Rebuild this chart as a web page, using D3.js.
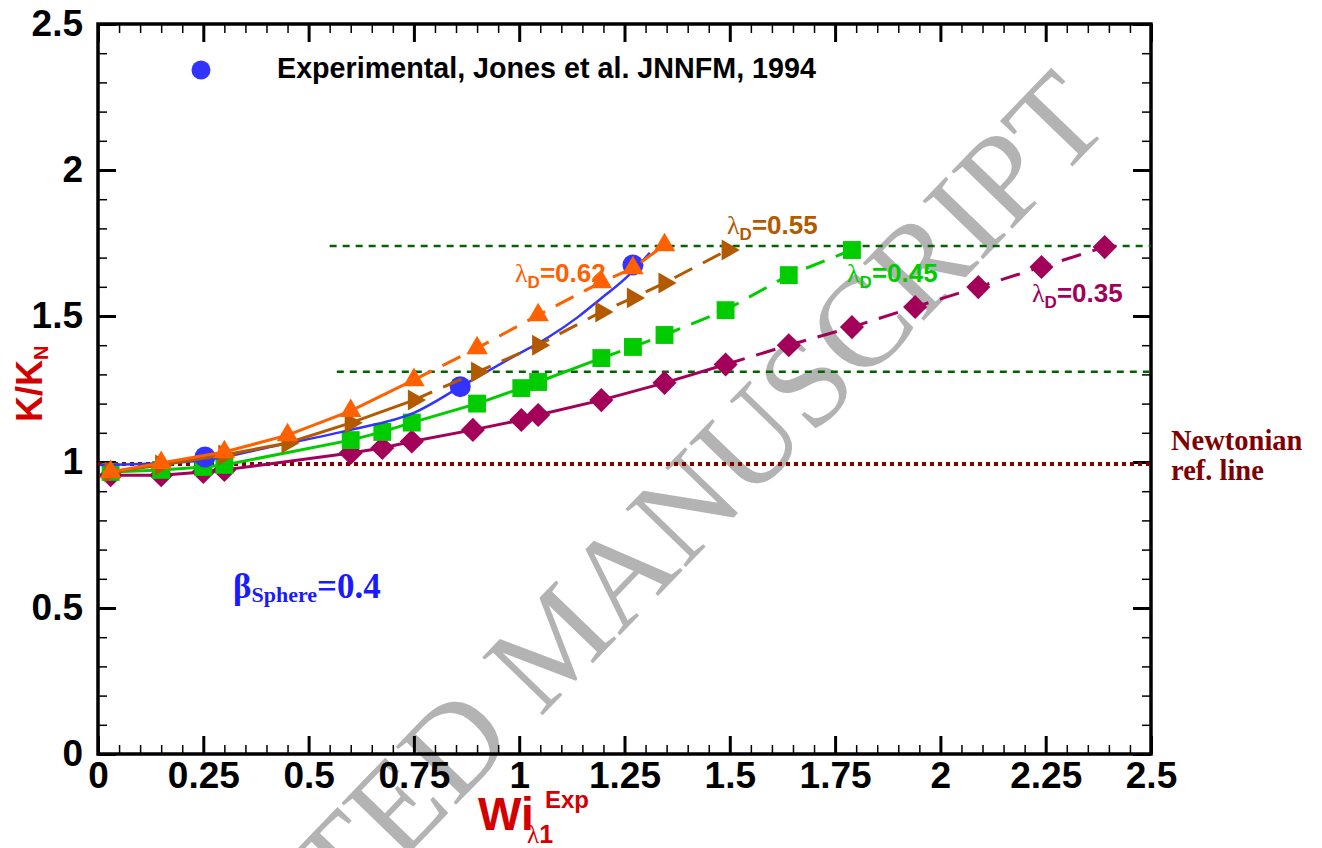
<!DOCTYPE html>
<html>
<head>
<meta charset="utf-8">
<script src="https://cdn.jsdelivr.net/npm/d3@7"></script>
<style>
  body { margin: 0; background: #fff; }
  text { font-family: "Liberation Sans", Arial, sans-serif; }
</style>
</head>
<body>
<div id="chart"></div>
<script>
// axis ticks
var xTicks = [0, 0.25, 0.5, 0.75, 1, 1.25, 1.5, 1.75, 2, 2.25, 2.5];
var yTicks = [0, 0.5, 1, 1.5, 2, 2.5];

// lambda_D = 0.62 (orange triangles)
var x062 = [0.03, 0.15, 0.30, 0.45, 0.60, 0.75, 0.90, 1.045, 1.195, 1.27, 1.345];
var y062 = [0.966, 0.997, 1.034, 1.092, 1.175, 1.281, 1.39, 1.503, 1.616, 1.664, 1.743];

// lambda_D = 0.55 (brown right triangles)
var x055 = [0.03, 0.15, 0.30, 0.45, 0.60, 0.75, 0.90, 1.045, 1.195, 1.27, 1.345, 1.495];
var y055 = [0.966, 0.99, 1.024, 1.065, 1.134, 1.212, 1.308, 1.40, 1.514, 1.562, 1.613, 1.726];

// lambda_D = 0.45 (green squares)
var x045 = [0.03, 0.15, 0.25, 0.30, 0.60, 0.675, 0.745, 0.90, 1.005, 1.045, 1.195, 1.27, 1.345, 1.49, 1.64, 1.79];
var y045 = [0.966, 0.973, 0.983, 0.99, 1.075, 1.103, 1.135, 1.2, 1.253, 1.274, 1.356, 1.394, 1.435, 1.52, 1.64, 1.726];

// lambda_D = 0.35 (purple diamonds)
var x035 = [0.03, 0.15, 0.25, 0.30, 0.60, 0.675, 0.745, 0.89, 1.005, 1.045, 1.195, 1.345, 1.49, 1.64, 1.79, 1.94, 2.09, 2.24, 2.39];
var y035 = [0.955, 0.955, 0.966, 0.973, 1.031, 1.048, 1.07, 1.11, 1.144, 1.161, 1.212, 1.271, 1.334, 1.40, 1.462, 1.531, 1.599, 1.668, 1.736];

// experiment, Jones et al. 1994
var xExp = [0.254, 0.86, 1.27];
var yExp = [1.017, 1.258, 1.675];

// simulation curve for the sphere (blue line)
var xSim = [0.005, 0.10, 0.254, 0.43, 0.60, 0.75, 0.86, 0.98, 1.07, 1.14, 1.19, 1.256, 1.31];
var ySim = [0.99, 0.993, 1.007, 1.058, 1.11, 1.168, 1.257, 1.356, 1.428, 1.497, 1.555, 1.634, 1.716];

// reference lines
var newtonianY = 0.993;
var upperRefY = 1.74, upperRefX0 = 0.55;
var lowerRefY = 1.309, lowerRefX0 = 0.567;

function zip(xs, ys) {
    return xs.map(function(v, i) { return [v, ys[i]]; });
}

function init() {
    var w = 1322, h = 848;
    var left = 98, right = 1151, top = 24, bottom = 754;

    var svg = d3.select("#chart").append("svg")
        .attr("width", w).attr("height", h)
        .style("background", "#fff");

    var xScale = d3.scaleLinear().domain([0, 2.5]).range([left, right]);
    var yScale = d3.scaleLinear().domain([0, 2.5]).range([bottom, top]);

    // watermark behind everything
    var wm = svg.append("g")
        .attr("transform", "translate(540,718) rotate(-46)")
        .attr("fill", "#b3b3b3")
        .style("font-size", "128px");
    wm.append("text").attr("x", -32).attr("text-anchor", "end")
        .style("font-family", "'Liberation Serif', serif").text("ACCEPTED");
    wm.append("text").attr("x", 0)
        .style("font-family", "'Liberation Serif', serif").text("MANUSCRIPT");

    // ticks, all pointing inwards
    var xMinor = d3.range(0, 2.5001, 0.05).filter(function(d) { return Math.abs(d / 0.25 - Math.round(d / 0.25)) > 1e-6; });
    var yMinor = d3.range(0, 2.5001, 0.1).filter(function(d) { return Math.abs(d / 0.5 - Math.round(d / 0.5)) > 1e-6; });

    function styleAxis(g, width) {
        g.select(".domain").remove();
        g.selectAll(".tick line").attr("stroke", "#000").attr("stroke-width", width);
    }

    svg.append("g").attr("transform", "translate(0," + bottom + ")")
        .call(d3.axisBottom(xScale).tickValues(xMinor).tickSize(-9).tickFormat(""))
        .call(styleAxis, 1.5);
    svg.append("g").attr("transform", "translate(0," + top + ")")
        .call(d3.axisTop(xScale).tickValues(xMinor).tickSize(-9).tickFormat(""))
        .call(styleAxis, 1.5);
    svg.append("g").attr("transform", "translate(" + left + ",0)")
        .call(d3.axisLeft(yScale).tickValues(yMinor).tickSize(-9).tickFormat(""))
        .call(styleAxis, 1.5);
    svg.append("g").attr("transform", "translate(" + right + ",0)")
        .call(d3.axisRight(yScale).tickValues(yMinor).tickSize(-9).tickFormat(""))
        .call(styleAxis, 1.5);

    var xAxis = svg.append("g").attr("transform", "translate(0," + bottom + ")")
        .call(d3.axisBottom(xScale).tickValues(xTicks).tickSize(-18).tickPadding(8).tickFormat(String))
        .call(styleAxis, 3);
    svg.append("g").attr("transform", "translate(0," + top + ")")
        .call(d3.axisTop(xScale).tickValues(xTicks).tickSize(-18).tickFormat(""))
        .call(styleAxis, 3);
    var yAxis = svg.append("g").attr("transform", "translate(" + left + ",0)")
        .call(d3.axisLeft(yScale).tickValues(yTicks).tickSize(-18).tickPadding(15).tickFormat(String))
        .call(styleAxis, 3);
    svg.append("g").attr("transform", "translate(" + right + ",0)")
        .call(d3.axisRight(yScale).tickValues(yTicks).tickSize(-18).tickFormat(""))
        .call(styleAxis, 3);

    [xAxis, yAxis].forEach(function(a) {
        a.selectAll("text")
            .attr("fill", "#000")
            .style("font-family", "'Liberation Sans', Arial, sans-serif")
            .style("font-weight", "bold")
            .style("font-size", "37px");
    });

    // frame
    svg.append("rect")
        .attr("x", left).attr("y", top)
        .attr("width", right - left).attr("height", bottom - top)
        .attr("fill", "none").attr("stroke", "#000").attr("stroke-width", 3.5);

    // reference lines
    svg.append("line")
        .attr("x1", xScale(0)).attr("x2", xScale(2.5))
        .attr("y1", yScale(newtonianY)).attr("y2", yScale(newtonianY))
        .attr("stroke", "#800000").attr("stroke-width", 4).attr("stroke-dasharray", "4,4");
    svg.append("line")
        .attr("x1", xScale(upperRefX0)).attr("x2", xScale(2.5))
        .attr("y1", yScale(upperRefY)).attr("y2", yScale(upperRefY))
        .attr("stroke", "#006400").attr("stroke-width", 2.5).attr("stroke-dasharray", "7,6");
    svg.append("line")
        .attr("x1", xScale(lowerRefX0)).attr("x2", xScale(2.5))
        .attr("y1", yScale(lowerRefY)).attr("y2", yScale(lowerRefY))
        .attr("stroke", "#006400").attr("stroke-width", 2.5).attr("stroke-dasharray", "7,6");

    var line = d3.line()
        .x(function(d) { return xScale(d[0]); })
        .y(function(d) { return yScale(d[1]); });

    // solid up to "split", dashed after it
    function drawSeries(data, color, split, marker) {
        var solid = data.filter(function(d) { return d[0] <= split + 1e-9; });
        var dashed = data.filter(function(d) { return d[0] >= split - 1e-9; });
        svg.append("path").datum(solid).attr("d", line)
            .attr("fill", "none").attr("stroke", color).attr("stroke-width", 3);
        if (dashed.length > 1) {
            svg.append("path").datum(dashed).attr("d", line)
                .attr("fill", "none").attr("stroke", color).attr("stroke-width", 3)
                .attr("stroke-dasharray", "20,12");
        }
        svg.append("g").selectAll("path").data(data).enter().append("path")
            .attr("d", marker.path)
            .attr("transform", function(d) {
                return "translate(" + xScale(d[0]) + "," + yScale(d[1]) + ") rotate(" + marker.rot + ")";
            })
            .attr("fill", color);
    }

    var diamond = { path: d3.symbol().type(d3.symbolSquare).size(290)(), rot: 45 };
    var square = { path: d3.symbol().type(d3.symbolSquare).size(320)(), rot: 0 };
    var triUp = { path: d3.symbol().type(d3.symbolTriangle).size(200)(), rot: 0 };
    var triRight = { path: d3.symbol().type(d3.symbolTriangle).size(190)(), rot: 90 };

    drawSeries(zip(x035, y035), "#a3005a", 1.49, diamond);
    drawSeries(zip(x045, y045), "#00cc00", 1.195, square);

    // blue simulation curve and experiment points
    svg.append("path").datum(zip(xSim, ySim)).attr("d", line.curve(d3.curveMonotoneX))
        .attr("fill", "none").attr("stroke", "#3333ff").attr("stroke-width", 2.5);
    line.curve(d3.curveLinear);
    svg.append("g").selectAll("circle").data(zip(xExp, yExp)).enter().append("circle")
        .attr("cx", function(d) { return xScale(d[0]); })
        .attr("cy", function(d) { return yScale(d[1]); })
        .attr("r", 10.5).attr("fill", "#3333ff");

    drawSeries(zip(x055, y055), "#b35900", 0.75, triRight);
    drawSeries(zip(x062, y062), "#ff6000", 0.75, triUp);

    // legend
    svg.append("circle").attr("cx", 201).attr("cy", 70).attr("r", 9.5).attr("fill", "#3333ff");
    svg.append("text").attr("x", 277).attr("y", 78)
        .style("font-weight", "bold").style("font-size", "28.7px").attr("fill", "#000")
        .text("Experimental, Jones et al. JNNFM, 1994");

    // lambda_D labels
    function lambdaLabel(x0, y0, color, value) {
        var t = svg.append("text").attr("x", x0).attr("y", y0).attr("fill", color);
        t.append("tspan").style("font-family", "'Liberation Serif', serif").style("font-size", "26px").text("λ");
        t.append("tspan").attr("dy", 6).style("font-weight", "bold").style("font-size", "17px").text("D");
        t.append("tspan").attr("dy", -6).style("font-weight", "bold").style("font-size", "26px").text("=" + value);
    }
    lambdaLabel(515, 282, "#ff6000", "0.62");
    lambdaLabel(727, 234, "#b35900", "0.55");
    lambdaLabel(847, 282, "#00cc00", "0.45");
    lambdaLabel(1032, 302, "#a3005a", "0.35");

    // beta label
    var b = svg.append("text").attr("x", 233).attr("y", 598).attr("fill", "#1a1aff")
        .style("font-family", "'Liberation Serif', serif").style("font-weight", "bold");
    b.append("tspan").style("font-size", "35px").text("β");
    b.append("tspan").attr("dy", 4).style("font-size", "22px").text("Sphere");
    b.append("tspan").attr("dy", -4).style("font-size", "35px").text("=0.4");

    // Newtonian reference label
    svg.append("text").attr("x", 1171).attr("y", 450).attr("fill", "#800000")
        .style("font-family", "'Liberation Serif', serif").style("font-weight", "bold").style("font-size", "28.5px")
        .text("Newtonian");
    svg.append("text").attr("x", 1171).attr("y", 480).attr("fill", "#800000")
        .style("font-family", "'Liberation Serif', serif").style("font-weight", "bold").style("font-size", "28.5px")
        .text("ref. line");

    // axis titles
    var yt = svg.append("text").attr("transform", "translate(42,422) rotate(-90)")
        .attr("fill", "#d40000").style("font-weight", "bold");
    yt.append("tspan").style("font-size", "36px").text("K/K");
    yt.append("tspan").attr("dy", 6).style("font-size", "20px").text("N");

    var xt = svg.append("g").attr("fill", "#d40000").style("font-weight", "bold");
    xt.append("text").attr("x", 478).attr("y", 830).style("font-size", "46px").text("Wi");
    xt.append("text").attr("x", 527).attr("y", 843).style("font-size", "25px")
        .html('<tspan style="font-family:\'Liberation Serif\',serif;font-weight:normal">λ</tspan>1');
    xt.append("text").attr("x", 545).attr("y", 808).style("font-size", "24px").text("Exp");
}

window.onload = init;
</script>
</body>
</html>
